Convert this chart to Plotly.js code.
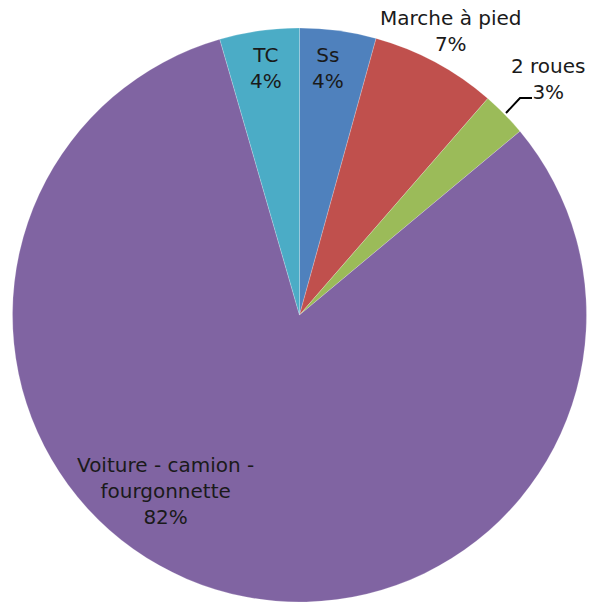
<!DOCTYPE html>
<html>
<head>
<meta charset="utf-8">
<script src="https://cdn.plot.ly/plotly-3.0.1.min.js"></script>
<style>html,body{margin:0;padding:0;background:#fff;}#chart{width:590px;height:605px;}</style>
</head>
<body>
<div id="chart"></div>
<script>
const categories = ["Ss", "Marche à pied", "2 roues", "Voiture - camion -<br>fourgonnette", "TC"];
const values = [4.30, 7.09, 2.55, 81.58, 4.48];
const colors = ["#4F81BD", "#C0504D", "#9BBB59", "#8064A2", "#4BACC6"];
// label centre positions in pixels (x, y of block centre)
const labelPos = [[328, 68], [451, 31], [548, 79], [165, 491], [266, 68]];

const W = 590, H = 605;
const total = values.reduce((a, b) => a + b, 0);
const font = {family: "DejaVu Sans, sans-serif", size: 20, color: "#1a1a1a"};

const annotations = categories.map((c, i) => ({
  text: c + "<br>" + Math.round(values[i] / total * 100) + "%",
  xref: "paper", yref: "paper",
  x: labelPos[i][0] / W, y: 1 - labelPos[i][1] / H,
  xanchor: "center", yanchor: "middle",
  showarrow: false, font: font, align: "center"
}));

const data = [{
  type: "pie",
  labels: categories,
  values: values,
  sort: false,
  direction: "clockwise",
  rotation: 0,
  textinfo: "none",
  hoverinfo: "label+percent",
  marker: {colors: colors, line: {color: "rgba(255,255,255,0.4)", width: 0.5}},
  domain: {x: [12 / W, 587 / W], y: [1 - 602 / H, 1 - 28 / H]},
  showlegend: false
}];

const layout = {
  width: W, height: H,
  margin: {l: 0, r: 0, t: 0, b: 0},
  paper_bgcolor: "#ffffff",
  showlegend: false,
  annotations: annotations,
  shapes: [{
    type: "path", xref: "paper", yref: "paper",
    path: "M " + (506 / W) + " " + (1 - 113 / H) + " L " + (520 / W) + " " + (1 - 98 / H) + " L " + (532 / W) + " " + (1 - 98 / H),
    line: {color: "#000000", width: 2}
  }]
};

Plotly.newPlot("chart", data, layout, {displayModeBar: false, staticPlot: true});
</script>
</body>
</html>
